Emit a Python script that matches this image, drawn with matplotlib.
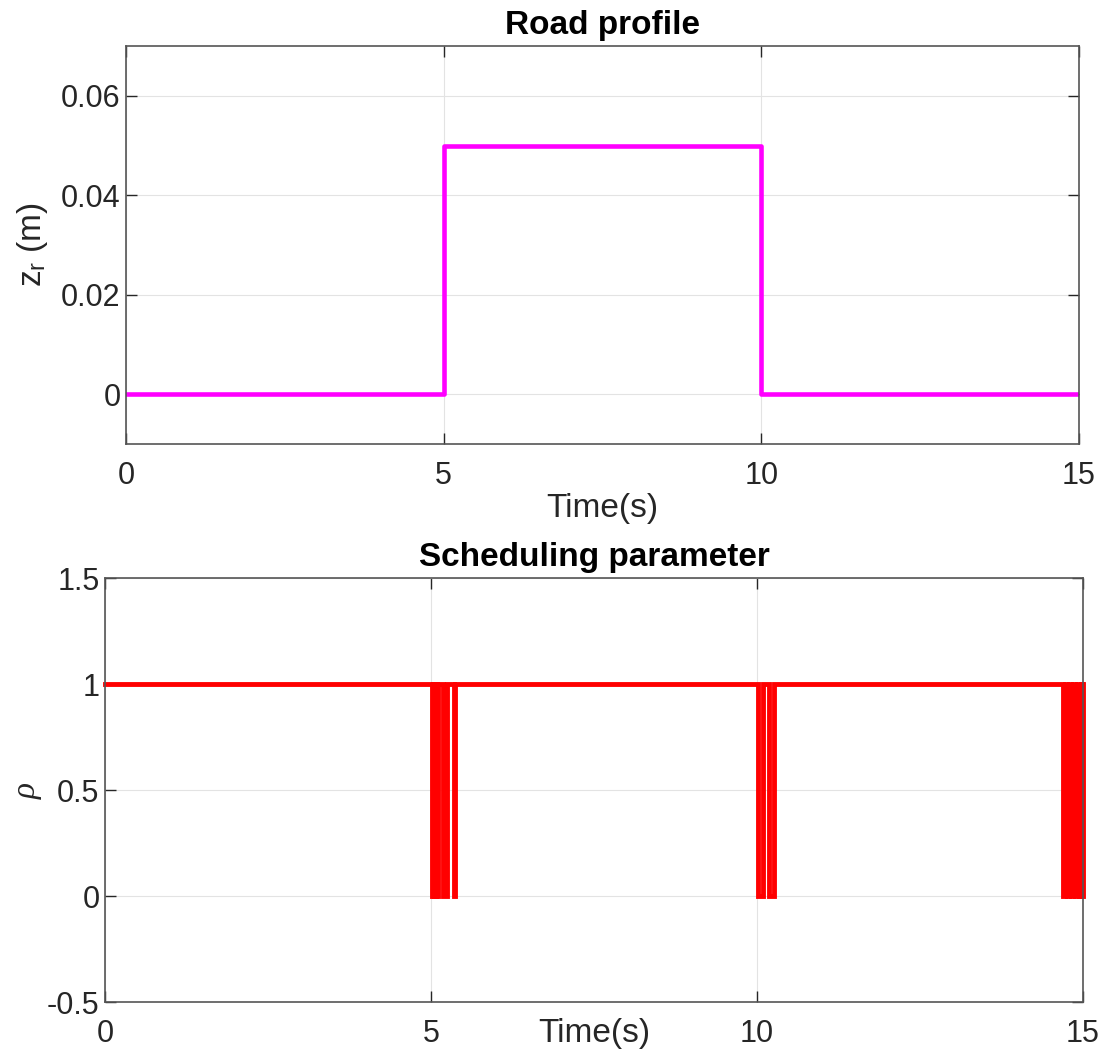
import matplotlib
matplotlib.use("Agg")
import matplotlib.pyplot as plt

plt.rcParams['font.family'] = ['Liberation Sans', 'DejaVu Sans']
plt.rcParams['mathtext.fontset'] = 'custom'
plt.rcParams['mathtext.it'] = 'Liberation Serif:italic'

# road profile (step bump)
road_t = [0, 5, 5, 10, 10, 15]
road_z = [0, 0, 0.05, 0.05, 0, 0]

# scheduling parameter: intervals where rho drops to 0 (otherwise 1)
rho_zero_intervals = [
    (5.015, 5.035), (5.05, 5.07), (5.085, 5.11),
    (5.19, 5.245), (5.345, 5.37),
    (10.015, 10.095), (10.185, 10.26),
    (14.70, 14.73), (14.76, 14.79), (14.82, 14.85),
    (14.88, 14.91), (14.94, 14.97), (14.99, 15.0),
]

xticks = [0, 5, 10, 15]
road_yticks = [0, 0.02, 0.04, 0.06]
road_yticklabels = ['0', '0.02', '0.04', '0.06']
rho_yticks = [-0.5, 0, 0.5, 1, 1.5]
rho_yticklabels = ['-0.5', '0', '0.5', '1', '1.5']

rho_t = [0.0]
rho_v = [1.0]
for a, b in rho_zero_intervals:
    rho_t += [a, a, b, b]
    rho_v += [1, 0, 0, 1]
rho_t.append(15.0)
rho_v.append(1.0)

dark = '#262626'
tick_fs = 22
label_fs = 24

fig = plt.figure(figsize=(11.10, 10.61), dpi=100)
ax1 = fig.add_axes([0.1135, 0.5815, 0.8586, 0.3751])
ax2 = fig.add_axes([0.0946, 0.0556, 0.8811, 0.3996])


def style(ax):
    for s in ax.spines.values():
        s.set_color('#555555')
        s.set_linewidth(1.2)
    ax.grid(True, color='#e3e3e3', linewidth=0.8)
    ax.set_axisbelow(True)
    ax.tick_params(direction='in', length=8, width=1.0, color=dark,
                   labelcolor=dark, labelsize=tick_fs, top=True, right=True)
    ax.tick_params(axis='x', pad=12)


ax1.plot(road_t, road_z, color='#ff00ff', linewidth=3.3)
ax1.set_xlim(0, 15)
ax1.set_ylim(-0.01, 0.07)
ax1.set_xticks(xticks)
ax1.set_yticks(road_yticks)
ax1.set_yticklabels(road_yticklabels)
style(ax1)
ax1.tick_params(axis='y', pad=4)
ax1.set_title('Road profile', fontsize=label_fs, fontweight='bold', pad=9)
ax1.set_xlabel('Time(s)', fontsize=label_fs, color=dark, labelpad=2)
ax1.set_ylabel(r'z$_{\mathregular{r}}$ (m)', fontsize=label_fs, color=dark,
               labelpad=8)

ax2.plot(rho_t, rho_v, color='#ff0000', linewidth=3.5, clip_on=False,
         solid_joinstyle='miter')
ax2.set_xlim(0, 15)
ax2.set_ylim(-0.5, 1.5)
ax2.set_xticks(xticks)
ax2.set_yticks(rho_yticks)
ax2.set_yticklabels(rho_yticklabels)
style(ax2)
ax2.tick_params(axis='y', pad=4)
ax2.set_title('Scheduling parameter', fontsize=label_fs, fontweight='bold',
              pad=9)
ax2.set_xlabel('Time(s)', fontsize=label_fs, color=dark, labelpad=-22)
ax2.set_ylabel(r'$\rho$', fontsize=label_fs, color=dark, labelpad=2)

fig.savefig('out.png', dpi=100)
